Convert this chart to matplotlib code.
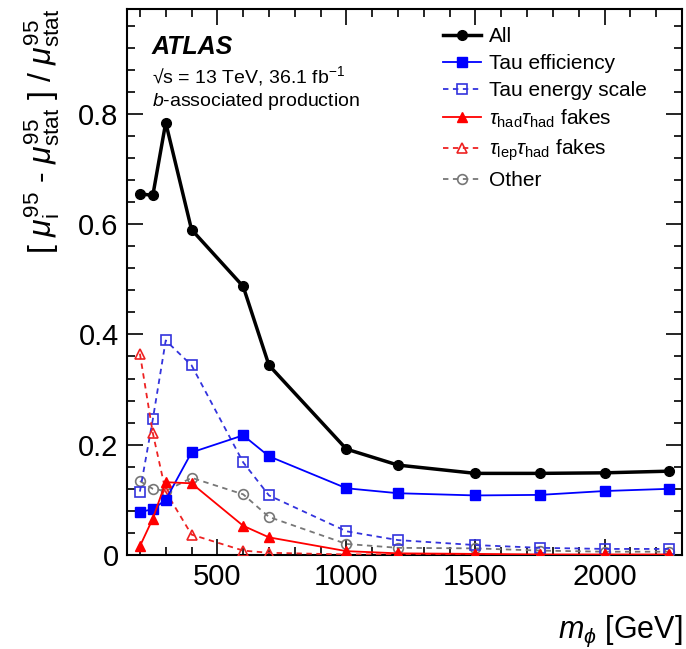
import matplotlib
matplotlib.use("Agg")
import matplotlib.pyplot as plt
from matplotlib.ticker import MultipleLocator

# mass points [GeV]
masses = [200, 250, 300, 400, 600, 700, 1000, 1200, 1500, 1750, 2000, 2250]

# relative impact on the 95% CL limit
all_syst = [0.655, 0.652, 0.784, 0.590, 0.487, 0.344, 0.192, 0.163, 0.148, 0.148, 0.149, 0.152]
tau_eff = [0.078, 0.083, 0.100, 0.186, 0.217, 0.179, 0.121, 0.112, 0.108, 0.109, 0.116, 0.120]
tau_es = [0.115, 0.246, 0.389, 0.344, 0.168, 0.108, 0.043, 0.027, 0.018, 0.013, 0.011, 0.011]
hadhad_fakes = [0.016, 0.066, 0.132, 0.130, 0.053, 0.032, 0.007, 0.003, 0.002, 0.001, 0.001, 0.001]
lephad_fakes = [0.365, 0.221, 0.115, 0.037, 0.008, 0.004, 0.001, 0.001, 0.000, 0.000, 0.000, 0.000]
other = [0.134, 0.120, 0.116, 0.140, 0.110, 0.069, 0.020, 0.013, 0.012, 0.008, 0.006, 0.006]

plt.rcParams["font.family"] = ["Liberation Sans", "DejaVu Sans"]
plt.rcParams["mathtext.fontset"] = "custom"
plt.rcParams["mathtext.rm"] = "Liberation Sans"
plt.rcParams["mathtext.it"] = "Liberation Sans:italic"
plt.rcParams["mathtext.bf"] = "Liberation Sans:bold"

fig = plt.figure(figsize=(6.86, 6.49), dpi=100)
ax = fig.add_axes([127 / 686, 1 - 555 / 649, (682 - 127) / 686, (555 - 9) / 649])

ax.plot(masses, all_syst, color="black", lw=2.5, marker="o", ms=7, label="All", zorder=6)
ax.plot(masses, tau_eff, color="#0000ff", lw=1.3, marker="s", ms=7, label="Tau efficiency", zorder=5)
ax.plot(masses, tau_es, color="#3333dd", lw=1.3, ls=(0, (3, 2.5)), marker="s", ms=7,
        mfc="none", mew=1.2, label="Tau energy scale", zorder=4)
ax.plot(masses, hadhad_fakes, color="#ff0000", lw=1.3, marker="^", ms=7,
        label=r"$\tau_{\rm had}\tau_{\rm had}$ fakes", zorder=5)
ax.plot(masses, lephad_fakes, color="#ee2222", lw=1.3, ls=(0, (3, 2.5)), marker="^", ms=7,
        mfc="none", mew=1.2, label=r"$\tau_{\rm lep}\tau_{\rm had}$ fakes", zorder=4)
ax.plot(masses, other, color="#777777", lw=1.3, ls=(0, (3, 2.5)), marker="o", ms=7,
        mfc="none", mew=1.2, label="Other", zorder=3)

ax.set_xlim(150, 2300)
ax.set_ylim(0, 0.99)
ax.xaxis.set_major_locator(MultipleLocator(500))
ax.xaxis.set_minor_locator(MultipleLocator(100))
ax.yaxis.set_major_locator(MultipleLocator(0.2))
ax.yaxis.set_minor_locator(MultipleLocator(0.04))
ax.set_yticks([0, 0.2, 0.4, 0.6, 0.8])
ax.set_yticklabels(["0", "0.2", "0.4", "0.6", "0.8"])
ax.tick_params(which="both", direction="in", top=True, right=True, labelsize=21, width=1.2)
ax.tick_params(which="major", length=11.5, pad=6)
ax.tick_params(which="minor", length=6)
for sp in ax.spines.values():
    sp.set_linewidth(1.5)

ax.set_xlabel(r"$m_{\phi}$ [GeV]", fontsize=22, loc="right", labelpad=16)
ax.set_ylabel(r"[ $\mu^{95}_{\rm i}$ - $\mu^{95}_{\rm stat}$ ] / $\mu^{95}_{\rm stat}$",
              fontsize=23, loc="top", labelpad=12)

ax.text(0.045, 0.93, "ATLAS", transform=ax.transAxes, fontsize=18,
        fontweight="bold", fontstyle="italic", va="center")
ax.text(0.045, 0.878, "\u221as = 13 TeV, 36.1 fb$^{-1}$", transform=ax.transAxes,
        fontsize=14, va="center")
ax.text(0.045, 0.83, r"$b$-associated production", transform=ax.transAxes,
        fontsize=14, va="center")

ax.legend(loc="upper left", bbox_to_anchor=(443 / 686, 1 - 27 / 649),
          bbox_transform=fig.transFigure, frameon=False, fontsize=15,
          handlelength=1.8, handletextpad=0.4, labelspacing=0.38,
          borderpad=0, borderaxespad=0)

fig.savefig("out.png", dpi=100)
